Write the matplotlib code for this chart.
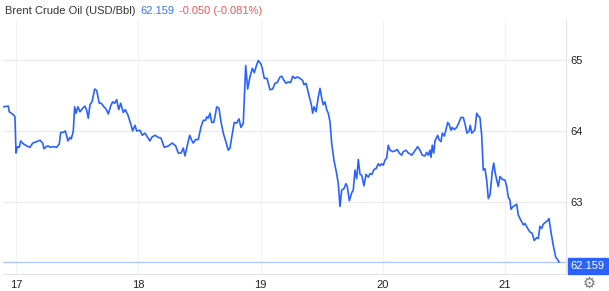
import matplotlib
matplotlib.use('Agg')
import matplotlib.pyplot as plt
import numpy as np

plt.rcParams['font.family'] = ['Liberation Sans', 'DejaVu Sans']

# hours since 17th 00:00 and Brent price (USD/Bbl)
hours = [-2.49, -1.51, -1.32, -0.53, -0.20, 0.00, 0.26, 0.65, 0.92, 1.43, 2.10, 2.75, 3.28, 4.06, 4.71,
         5.24, 5.50, 5.89, 6.34, 6.67, 7.32, 7.99, 8.50, 8.77, 9.29, 9.68, 9.95, 10.21, 10.60, 10.86,
         11.25, 11.52, 11.78, 12.17, 12.56, 13.09, 13.54, 13.88, 14.19, 14.53, 14.92, 15.45, 15.84, 16.35,
         16.74, 17.14, 17.67, 18.12, 18.59, 18.98, 19.37, 19.77, 20.16, 20.55, 21.06, 21.46, 21.99, 22.52,
         22.91, 23.36, 23.69, 24.34, 24.79, 25.32, 25.85, 26.30, 26.64, 27.29, 27.93, 28.46, 29.11, 29.90,
         30.68, 31.35, 31.86, 32.39, 32.84, 33.17, 33.70, 34.10, 34.49, 34.80, 35.28, 35.79, 36.32, 36.77,
         37.24, 37.43, 37.75, 38.08, 38.42, 38.81, 39.06, 39.40, 39.85, 40.24, 40.69, 41.16, 41.67, 42.01,
         42.46, 42.85, 43.32, 43.77, 44.17, 44.62, 45.09, 45.48, 45.93, 46.39, 46.78, 47.25, 47.56, 48.09,
         48.35, 48.74, 49.27, 49.86, 50.39, 50.84, 51.29, 51.82, 52.16, 52.61, 53.00, 53.45, 53.92, 54.32,
         54.77, 55.22, 55.75, 56.28, 56.53, 56.93, 57.18, 57.58, 57.97, 58.24, 58.50, 58.90, 59.34, 59.68,
         60.07, 60.32, 60.66, 60.99, 61.30, 61.64, 61.97, 62.42, 62.95, 63.27, 63.60, 63.94, 64.39, 64.78,
         65.04, 65.43, 65.90, 66.21, 66.55, 66.88, 67.20, 67.53, 67.86, 68.31, 68.71, 69.16, 69.49, 69.88,
         70.28, 70.67, 71.12, 71.45, 71.79, 72.10, 72.43, 72.77, 73.08, 73.42, 73.95, 74.40, 74.85, 75.24,
         75.71, 76.03, 76.56, 77.01, 77.34, 77.68, 78.19, 78.85, 79.31, 79.76, 80.29, 80.62, 80.94, 81.27,
         81.47, 81.72, 82.00, 82.25, 82.78, 83.04, 83.43, 83.68, 84.08, 84.35, 84.74, 85.00, 85.39, 85.65,
         86.04, 86.51, 86.96, 87.35, 87.81, 88.14, 88.53, 88.93, 89.18, 89.46, 89.77, 90.10, 90.44, 90.75,
         91.08, 91.42, 91.73, 92.07, 92.40, 92.72, 93.05, 93.50, 93.78, 94.03, 94.37, 94.68, 95.01, 95.46,
         95.99, 96.33, 96.64, 96.97, 97.17, 97.62, 98.29, 98.60, 98.94, 99.59, 99.92, 100.45, 100.90, 101.35,
         101.74, 102.22, 102.53, 102.86, 103.20, 103.51, 103.84, 104.37, 104.63, 105.02, 105.48, 105.94,
         106.33, 106.59]
price = [64.34, 64.35, 64.27, 64.23, 64.20, 63.69, 63.78, 63.77, 63.86, 63.82, 63.79, 63.77, 63.83, 63.85, 63.87,
         63.83, 63.75, 63.78, 63.79, 63.77, 63.78, 63.77, 63.82, 63.98, 63.98, 64.00, 63.93, 63.86, 63.91, 63.89,
         64.00, 64.34, 64.25, 64.34, 64.27, 64.32, 64.35, 64.29, 64.18, 64.37, 64.41, 64.59, 64.57, 64.39,
         64.39, 64.35, 64.31, 64.24, 64.35, 64.41, 64.39, 64.44, 64.30, 64.39, 64.26, 64.30, 64.22, 64.10,
         64.00, 64.08, 64.00, 64.01, 63.94, 63.97, 63.91, 63.86, 63.91, 63.94, 63.91, 63.90, 63.77, 63.79,
         63.83, 63.79, 63.69, 63.69, 63.76, 63.65, 63.82, 63.94, 63.87, 63.83, 63.88, 63.88, 64.06, 64.15,
         64.15, 64.20, 64.18, 64.25, 64.12, 64.12, 64.20, 64.34, 64.32, 64.13, 63.97, 63.86, 63.73, 63.76,
         63.96, 64.12, 64.11, 64.17, 64.05, 64.11, 64.92, 64.59, 64.76, 64.88, 64.82, 64.93, 64.99, 64.94,
         64.88, 64.74, 64.74, 64.58, 64.59, 64.67, 64.68, 64.76, 64.77, 64.71, 64.67, 64.69, 64.68, 64.77,
         64.74, 64.76, 64.74, 64.71, 64.65, 64.67, 64.60, 64.48, 64.37, 64.25, 64.34, 64.27, 64.48, 64.60,
         64.44, 64.37, 64.41, 64.30, 64.25, 64.13, 63.83, 63.59, 63.40, 63.26, 62.94, 63.17, 63.19, 63.26,
         63.22, 63.02, 63.13, 63.17, 63.45, 63.33, 63.60, 63.39, 63.38, 63.23, 63.39, 63.35, 63.40, 63.39,
         63.46, 63.47, 63.54, 63.51, 63.54, 63.52, 63.59, 63.62, 63.80, 63.73, 63.71, 63.72, 63.74, 63.69,
         63.66, 63.71, 63.73, 63.69, 63.68, 63.66, 63.71, 63.78, 63.73, 63.66, 63.65, 63.70, 63.66, 63.73,
         63.63, 63.80, 63.69, 63.86, 63.94, 63.88, 63.85, 63.97, 63.93, 64.00, 64.12, 64.10, 64.01, 64.05,
         64.02, 64.05, 64.12, 64.19, 64.19, 64.10, 63.97, 64.00, 64.08, 63.97, 63.99, 64.02, 64.25, 64.21,
         64.19, 63.94, 63.45, 63.47, 63.31, 63.05, 63.10, 63.43, 63.55, 63.43, 63.31, 63.22, 63.36, 63.32,
         63.31, 63.22, 63.07, 63.03, 62.90, 62.94, 62.97, 62.82, 62.77, 62.68, 62.70, 62.63, 62.58, 62.56,
         62.46, 62.50, 62.49, 62.66, 62.63, 62.69, 62.71, 62.74, 62.77, 62.58, 62.39, 62.23,
         62.19, 62.16]

last_price = 62.159
change = -0.050
change_pct = -0.081
day_labels = ['17', '18', '19', '20', '21']
day_ticks = [0, 24, 48, 72, 96]
price_ticks = [63, 64, 65]

blue = '#2962ff'
fig = plt.figure(figsize=(6.09, 2.91), dpi=100)
ax = fig.add_axes([3/609, 1 - 274/291, 563/609, 254/291])

ax.plot(hours, price, color=blue, lw=1.2, zorder=3)
ax.axhline(last_price, color='#a9c1ff', lw=0.9, zorder=2)

ax.set_xlim(-2.55, 107.97)
ax.set_ylim(61.99, 65.56)
ax.set_xticks(day_ticks)
ax.set_xticklabels(day_labels)
ax.set_yticks(price_ticks)
ax.yaxis.tick_right()
ax.tick_params(axis='both', length=0, labelsize=8, colors='#222222')
ax.tick_params(axis='y', pad=3)
ax.tick_params(axis='x', pad=4)
ax.grid(axis='y', color='#ebebeb', lw=1.0)
ax.grid(axis='x', color='#f2f3f7', lw=0.8)
for s in ['top', 'left']:
    ax.spines[s].set_visible(False)
ax.spines['bottom'].set_color('#e3e3e3')
ax.spines['right'].set_color('#e3e3e3')

# last price tag on right axis
ax.annotate(f'{last_price:.3f}', xy=(1.0, last_price), xycoords=('axes fraction', 'data'),
            xytext=(3.5, -3), textcoords='offset points', ha='left', va='center',
            fontsize=8, color='white',
            bbox=dict(boxstyle='square,pad=0.3', fc=blue, ec=blue), annotation_clip=False)

# header: three pieces placed one after another
renderer = fig.canvas.get_renderer()
x = 5
parts = [('Brent Crude Oil (USD/Bbl)', '#333333'),
         (f'{last_price:.3f}', '#3d72f5'),
         (f'{change:.3f} ({change_pct:.3f}%)', '#f05555')]
for txt, col in parts:
    t = fig.text(x / 609, 1 - 11/291, txt, fontsize=8, color=col, va='center')
    x = t.get_window_extent(renderer).x1 + 5

fig.text(589/609, 1 - 283/291, '\u2699', fontsize=10.5, color='#777777', ha='center', va='center',
         family='DejaVu Sans')

fig.savefig('out.png', dpi=100)
